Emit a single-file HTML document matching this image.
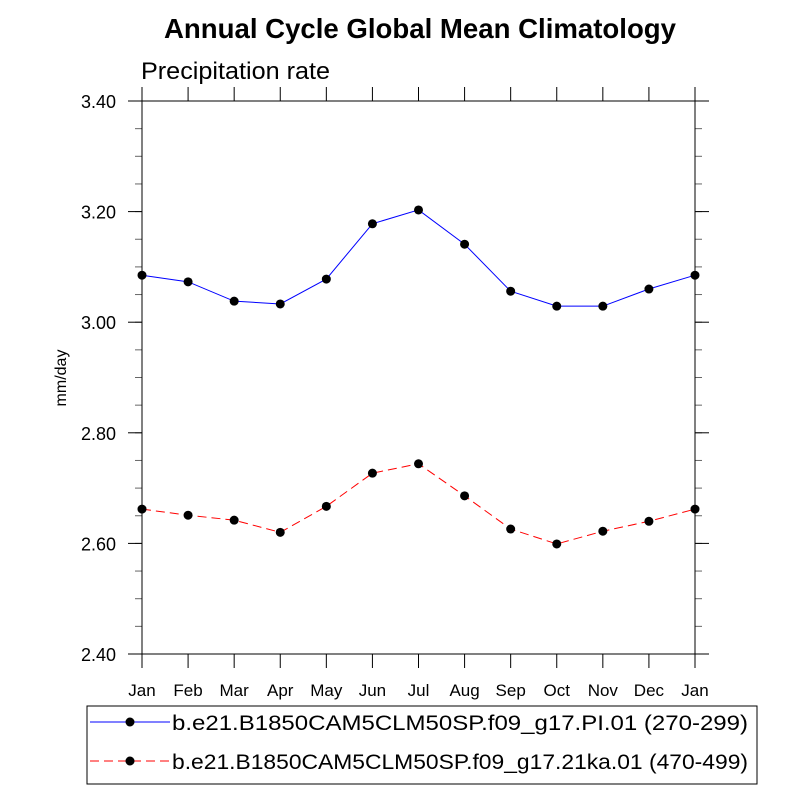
<!DOCTYPE html>
<html><head><meta charset="utf-8"><style>body{margin:0;background:#fff}svg{display:block;font-family:"Liberation Sans",sans-serif}</style></head><body>
<svg id="chart" width="800" height="800" viewBox="0 0 800 800">
<text x="420" y="38" text-anchor="middle" font-size="28" font-weight="bold" textLength="512" lengthAdjust="spacingAndGlyphs">Annual Cycle Global Mean Climatology</text>
<text x="141" y="79" font-size="24" textLength="189" lengthAdjust="spacingAndGlyphs">Precipitation rate</text>
<text transform="translate(66,378) rotate(-90)" text-anchor="middle" font-size="16">mm/day</text>
<g id="axes"></g><g id="series"></g>
<rect x="87" y="706" width="670" height="78" fill="none" stroke="#000" stroke-width="1"/>
<g><line x1="90" y1="722" x2="170" y2="722" stroke="#00f"/><circle cx="130" cy="722" r="4.5"/><text x="172" y="730" font-size="21" textLength="576" lengthAdjust="spacingAndGlyphs">b.e21.B1850CAM5CLM50SP.f09_g17.PI.01 (270-299)</text></g>
<g><line x1="90" y1="761" x2="170" y2="761" stroke="#f00" stroke-dasharray="9,5"/><circle cx="130" cy="761" r="4.5"/><text x="172" y="769" font-size="21" textLength="576" lengthAdjust="spacingAndGlyphs">b.e21.B1850CAM5CLM50SP.f09_g17.21ka.01 (470-499)</text></g>
<rect x="142" y="101" width="553" height="553" fill="none" stroke="#000" stroke-width="1"/>
</svg>
<script>
const months=["Jan","Feb","Mar","Apr","May","Jun","Jul","Aug","Sep","Oct","Nov","Dec","Jan"];
const piValues=[3.085,3.073,3.038,3.033,3.078,3.178,3.203,3.141,3.056,3.029,3.029,3.060,3.085];
const kaValues=[2.662,2.651,2.642,2.620,2.667,2.727,2.744,2.686,2.626,2.599,2.622,2.640,2.662];
const yTicks=[2.40,2.60,2.80,3.00,3.20,3.40];
const L=142,R=695,T=101,B=654,yMin=2.4,yMax=3.4;
const x=i=>L+(R-L)*i/(months.length-1);
const y=v=>B-(v-yMin)/(yMax-yMin)*(B-T);
const NS="http://www.w3.org/2000/svg";
const ax=document.getElementById('axes'),sr=document.getElementById('series');
function mk(t,a,p){const e=document.createElementNS(NS,t);for(const k in a)e.setAttribute(k,a[k]);p.appendChild(e);return e;}
months.forEach((m,i)=>{
 mk('line',{x1:x(i),x2:x(i),y1:B,y2:B+14,stroke:'#000'},ax);
 mk('line',{x1:x(i),x2:x(i),y1:T,y2:T-14,stroke:'#000'},ax);
 const t=mk('text',{x:x(i),y:B+42,'text-anchor':'middle','font-size':17},ax);t.textContent=m;
 
 
});
for(let v=yMin;v<=yMax+1e-9;v+=0.05){const yy=y(v);
 mk('line',{x1:L,x2:L-7,y1:yy,y2:yy,stroke:'#666'},ax);mk('line',{x1:R,x2:R+7,y1:yy,y2:yy,stroke:'#666'},ax);}
yTicks.forEach(v=>{const yy=y(v);
 mk('line',{x1:L-14,x2:L,y1:yy,y2:yy,stroke:'#000'},ax);mk('line',{x1:R,x2:R+14,y1:yy,y2:yy,stroke:'#000'},ax);
 const t=mk('text',{x:L-26,y:yy+7,'text-anchor':'end','font-size':18},ax);t.textContent=v.toFixed(2);
 
 
});
function series(vals,color,dash,name){
 const g=mk('g',{},sr);
 
 
 const p=mk('polyline',{points:vals.map((v,i)=>x(i)+','+y(v)).join(' '),fill:'none',stroke:color,'stroke-width':1},g);
 if(dash)p.setAttribute('stroke-dasharray',dash);
 vals.forEach((v,i)=>{const c=mk('circle',{cx:x(i),cy:y(v),r:4.5,fill:'#000'},g);
  
  });
}
series(piValues,'#00f',null,'series-pi');
series(kaValues,'#f00','9,5','series-21ka');
</script>
</body></html>
